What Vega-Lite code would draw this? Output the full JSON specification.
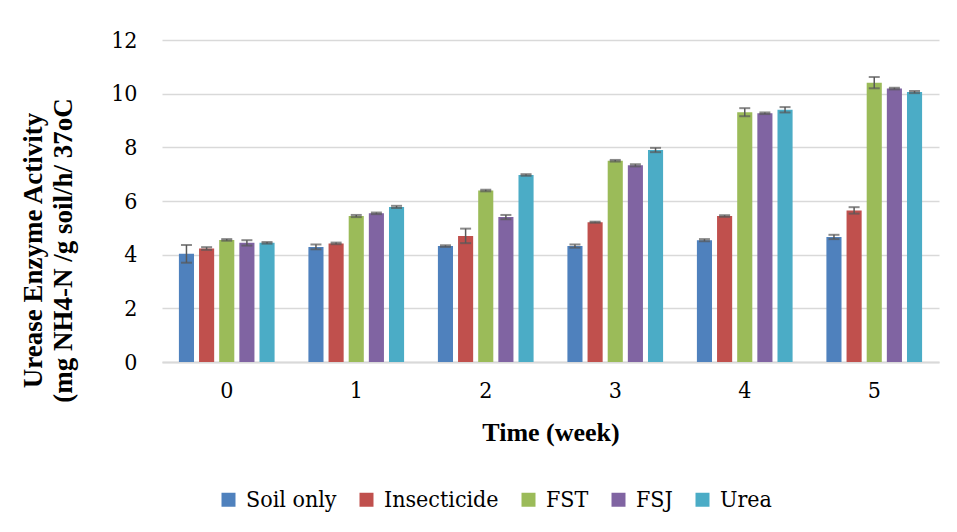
{
  "$schema": "https://vega.github.io/schema/vega-lite/v6.json",
  "width": 777,
  "height": 322,
  "autosize": {"type": "none"},
  "padding": {"left": 162, "top": 40, "right": 18, "bottom": 170},
  "background": "white",
  "config": {
    "font": "Liberation Serif",
    "view": {"stroke": null}
  },
  "data": {
    "values": [
      {"week": "0", "treatment": "Soil only", "value": 4.03, "lo": 3.70, "hi": 4.36},
      {"week": "0", "treatment": "Insecticide", "value": 4.23, "lo": 4.18, "hi": 4.28},
      {"week": "0", "treatment": "FST", "value": 4.55, "lo": 4.52, "hi": 4.58},
      {"week": "0", "treatment": "FSJ", "value": 4.44, "lo": 4.34, "hi": 4.54},
      {"week": "0", "treatment": "Urea", "value": 4.44, "lo": 4.41, "hi": 4.47},
      {"week": "1", "treatment": "Soil only", "value": 4.29, "lo": 4.20, "hi": 4.38},
      {"week": "1", "treatment": "Insecticide", "value": 4.42, "lo": 4.39, "hi": 4.45},
      {"week": "1", "treatment": "FST", "value": 5.44, "lo": 5.40, "hi": 5.48},
      {"week": "1", "treatment": "FSJ", "value": 5.54, "lo": 5.51, "hi": 5.57},
      {"week": "1", "treatment": "Urea", "value": 5.78, "lo": 5.74, "hi": 5.82},
      {"week": "2", "treatment": "Soil only", "value": 4.32, "lo": 4.29, "hi": 4.35},
      {"week": "2", "treatment": "Insecticide", "value": 4.70, "lo": 4.43, "hi": 4.97},
      {"week": "2", "treatment": "FST", "value": 6.39, "lo": 6.36, "hi": 6.42},
      {"week": "2", "treatment": "FSJ", "value": 5.40, "lo": 5.32, "hi": 5.48},
      {"week": "2", "treatment": "Urea", "value": 6.97, "lo": 6.94, "hi": 7.00},
      {"week": "3", "treatment": "Soil only", "value": 4.32, "lo": 4.26, "hi": 4.38},
      {"week": "3", "treatment": "Insecticide", "value": 5.21, "lo": 5.19, "hi": 5.23},
      {"week": "3", "treatment": "FST", "value": 7.50, "lo": 7.47, "hi": 7.53},
      {"week": "3", "treatment": "FSJ", "value": 7.33, "lo": 7.29, "hi": 7.37},
      {"week": "3", "treatment": "Urea", "value": 7.90, "lo": 7.82, "hi": 7.98},
      {"week": "4", "treatment": "Soil only", "value": 4.54, "lo": 4.50, "hi": 4.58},
      {"week": "4", "treatment": "Insecticide", "value": 5.44, "lo": 5.41, "hi": 5.47},
      {"week": "4", "treatment": "FST", "value": 9.31, "lo": 9.16, "hi": 9.46},
      {"week": "4", "treatment": "FSJ", "value": 9.27, "lo": 9.24, "hi": 9.30},
      {"week": "4", "treatment": "Urea", "value": 9.40, "lo": 9.30, "hi": 9.50},
      {"week": "5", "treatment": "Soil only", "value": 4.66, "lo": 4.58, "hi": 4.74},
      {"week": "5", "treatment": "Insecticide", "value": 5.65, "lo": 5.53, "hi": 5.77},
      {"week": "5", "treatment": "FST", "value": 10.41, "lo": 10.20, "hi": 10.62},
      {"week": "5", "treatment": "FSJ", "value": 10.19, "lo": 10.16, "hi": 10.22},
      {"week": "5", "treatment": "Urea", "value": 10.06, "lo": 10.02, "hi": 10.10}
    ]
  },
  "encoding": {
    "x": {
      "field": "week",
      "type": "nominal",
      "scale": {"paddingInner": 0.23, "paddingOuter": 0.115},
      "title": "Time (week)",
      "axis": {
        "labelAngle": 0,
        "domain": true,
        "domainColor": "#D9D9D9",
        "domainWidth": 2,
        "ticks": false,
        "labelFont": "DejaVu Serif Condensed",
        "labelFontSize": 23,
        "labelFontWeight": "normal",
        "labelColor": "black",
        "labelPadding": 17,
        "titleFont": "Liberation Serif",
        "titleFontSize": 26,
        "titleFontWeight": "bold",
        "titleColor": "black",
        "titlePadding": 17
      }
    },
    "xOffset": {
      "field": "treatment",
      "type": "nominal",
      "sort": ["Soil only", "Insecticide", "FST", "FSJ", "Urea"],
      "scale": {"paddingInner": 0.25, "paddingOuter": 0.1}
    }
  },
  "layer": [
    {
      "mark": {"type": "bar"},
      "encoding": {
        "y": {
          "field": "value",
          "type": "quantitative",
          "scale": {"domain": [0, 12]},
          "title": ["Urease  Enzyme Activity", "(mg NH4-N /g soil/h/ 37oC"],
          "axis": {
            "values": [0, 2, 4, 6, 8, 10, 12],
            "grid": true,
            "gridColor": "#D9D9D9",
            "gridWidth": 1.5,
            "domain": false,
            "ticks": false,
            "labelFont": "DejaVu Serif Condensed",
            "labelFontSize": 23,
            "labelFontWeight": "normal",
            "labelColor": "black",
            "labelPadding": 25,
            "titleFont": "Liberation Serif",
            "titleFontSize": 27,
            "titleFontWeight": "bold",
            "titleColor": "black",
            "titleLineHeight": 30,
            "titleX": -115,
            "titleY": 210
          }
        },
        "color": {
          "field": "treatment",
          "type": "nominal",
          "sort": ["Soil only", "Insecticide", "FST", "FSJ", "Urea"],
          "scale": {
            "domain": ["Soil only", "Insecticide", "FST", "FSJ", "Urea"],
            "range": ["#4F81BD", "#C0504D", "#9BBB59", "#8064A2", "#4BACC6"]
          },
          "legend": {
            "orient": "none",
            "legendX": 55,
            "legendY": 448,
            "direction": "horizontal",
            "title": null,
            "symbolType": "square",
            "symbolSize": 196,
            "symbolStrokeWidth": 0,
            "labelFont": "DejaVu Serif Condensed",
            "labelFontSize": 23,
            "labelFontWeight": "normal",
            "labelColor": "black",
            "labelOffset": 6,
            "columnPadding": 18
          }
        }
      }
    },
    {
      "mark": {"type": "rule", "color": "#595959", "strokeWidth": 1.5},
      "encoding": {
        "y": {"field": "lo", "type": "quantitative", "title": ["Urease  Enzyme Activity", "(mg NH4-N /g soil/h/ 37oC"]},
        "y2": {"field": "hi"}
      }
    },
    {
      "mark": {"type": "tick", "color": "#595959", "thickness": 2, "size": 11},
      "encoding": {
        "y": {"field": "lo", "type": "quantitative", "title": ["Urease  Enzyme Activity", "(mg NH4-N /g soil/h/ 37oC"]}
      }
    },
    {
      "mark": {"type": "tick", "color": "#595959", "thickness": 2, "size": 11},
      "encoding": {
        "y": {"field": "hi", "type": "quantitative", "title": ["Urease  Enzyme Activity", "(mg NH4-N /g soil/h/ 37oC"]}
      }
    }
  ]
}
